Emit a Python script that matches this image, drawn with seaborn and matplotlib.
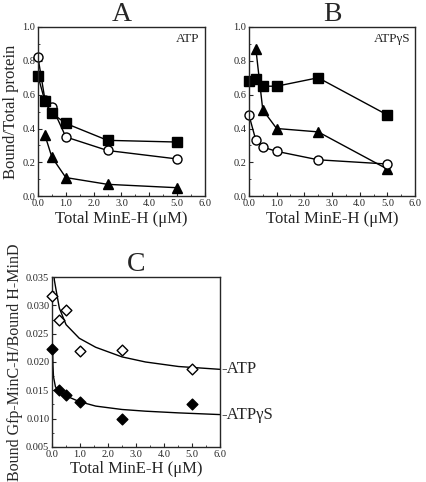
import matplotlib
matplotlib.use("Agg")
import matplotlib.pyplot as plt
import numpy as np
import pandas as pd
import seaborn as sns
from matplotlib.ticker import MultipleLocator, FormatStrFormatter

# ---- data ----
conc = [0.0, 0.25, 0.5, 1.0, 2.5, 5.0]
conc_tri = [0.25, 0.5, 1.0, 2.5, 5.0]

# panel A (ATP)
a_square = [0.71, 0.56, 0.49, 0.43, 0.33, 0.32]
a_circle = [0.82, 0.57, 0.53, 0.35, 0.27, 0.22]
a_triangle = [0.36, 0.23, 0.11, 0.07, 0.05]

# panel B (ATPgS)
b_square = [0.68, 0.69, 0.65, 0.65, 0.70, 0.48]
b_triangle = [0.87, 0.51, 0.40, 0.38, 0.16]
b_circle = [0.48, 0.33, 0.29, 0.265, 0.215, 0.19]

# panel C
c_atp = [0.0316, 0.0275, 0.0292, 0.0220, 0.0221, 0.0187]
c_atpgs = [0.0223, 0.0151, 0.0141, 0.0130, 0.0099, 0.0126]

# fitted curves
fit_x_atp = [0.06, 0.08, 0.14, 0.26, 0.5, 0.97, 1.56, 2.5, 3.34, 4.52, 6.0]
fit_y_atp = [0.0360, 0.0345, 0.0328, 0.0295, 0.0266, 0.0242, 0.0226, 0.0209, 0.0200, 0.0192, 0.0187]
fit_x_gs = [0.02, 0.03, 0.05, 0.12, 0.26, 0.5, 0.97, 1.56, 2.5, 3.34, 4.52, 6.0]
fit_y_gs = [0.0221, 0.0195, 0.0174, 0.0156, 0.0149, 0.0140, 0.0130, 0.0122, 0.0116, 0.0113, 0.0110, 0.0107]

sns.set_style("ticks")
plt.rcParams['font.family'] = ['Liberation Serif', 'DejaVu Serif']
plt.rcParams['xtick.direction'] = 'in'
plt.rcParams['ytick.direction'] = 'in'
plt.rcParams['axes.linewidth'] = 1.0

fig = plt.figure(figsize=(4.27, 4.82), dpi=100)
ax_a = fig.add_axes([0.089, 0.593, 0.391, 0.351])
ax_b = fig.add_axes([0.583, 0.593, 0.389, 0.351])
ax_c = fig.add_axes([0.122, 0.073, 0.393, 0.352])


def draw_series(ax, xs, ys, marker, face, size=6.5):
    sns.lineplot(x=xs, y=ys, ax=ax, color='black', linewidth=1.0, sort=False,
                 marker=marker, markersize=size, markerfacecolor=face,
                 markeredgecolor='black', markeredgewidth=1.0, clip_on=False)


def style_top(ax):
    ax.set_xlim(0, 6)
    ax.set_ylim(0, 1)
    ax.xaxis.set_major_locator(MultipleLocator(1))
    ax.xaxis.set_minor_locator(MultipleLocator(0.5))
    ax.yaxis.set_major_locator(MultipleLocator(0.2))
    ax.yaxis.set_minor_locator(MultipleLocator(0.1))
    ax.xaxis.set_major_formatter(FormatStrFormatter('%.1f'))
    ax.yaxis.set_major_formatter(FormatStrFormatter('%.1f'))
    ax.tick_params(labelsize=7.5, length=3, width=0.8, pad=2)
    ax.tick_params(which='minor', length=1.5, width=0.6)
    ax.set_xlabel('Total MinE-H (\u03bcM)', fontsize=12, labelpad=2)


# panel A
draw_series(ax_a, conc_tri, a_triangle, '^', 'black')
draw_series(ax_a, conc, a_circle, 'o', 'white')
draw_series(ax_a, conc, a_square, 's', 'black')
style_top(ax_a)
ax_a.set_ylabel('Bound/Total protein', fontsize=12, labelpad=2)
ax_a.text(5.8, 0.93, 'ATP', ha='right', va='center', fontsize=9.5)
ax_a.set_title('A', fontsize=20, pad=1)

# panel B
draw_series(ax_b, conc, b_square, 's', 'black')
draw_series(ax_b, conc_tri, b_triangle, '^', 'black')
draw_series(ax_b, conc, b_circle, 'o', 'white')
style_top(ax_b)
ax_b.set_ylabel('')
ax_b.text(5.85, 0.93, 'ATP\u03b3S', ha='right', va='center', fontsize=9.5)
ax_b.set_title('B', fontsize=20, pad=1)

# panel C
sns.lineplot(x=fit_x_atp, y=fit_y_atp, ax=ax_c, color='black', linewidth=1.0, sort=False)
sns.lineplot(x=fit_x_gs, y=fit_y_gs, ax=ax_c, color='black', linewidth=1.0, sort=False)
sns.scatterplot(x=conc, y=c_atp, ax=ax_c, marker='D', s=30, color='white',
                edgecolor='black', linewidth=1.0, zorder=3, clip_on=False)
sns.scatterplot(x=conc, y=c_atpgs, ax=ax_c, marker='D', s=30, color='black',
                edgecolor='black', linewidth=1.0, zorder=3, clip_on=False)
ax_c.set_xlim(0, 6)
ax_c.set_ylim(0.005, 0.035)
ax_c.xaxis.set_major_locator(MultipleLocator(1))
ax_c.xaxis.set_minor_locator(MultipleLocator(0.5))
ax_c.yaxis.set_major_locator(MultipleLocator(0.005))
ax_c.yaxis.set_minor_locator(MultipleLocator(0.0025))
ax_c.xaxis.set_major_formatter(FormatStrFormatter('%.1f'))
ax_c.yaxis.set_major_formatter(FormatStrFormatter('%.3f'))
ax_c.tick_params(labelsize=7.5, length=3, width=0.8, pad=2)
ax_c.tick_params(which='minor', length=1.5, width=0.6)
ax_c.set_xlabel('Total MinE-H (\u03bcM)', fontsize=12, labelpad=2)
ax_c.set_ylabel('Bound Gfp-MinC-H/Bound H-MinD', fontsize=11.5, labelpad=2)
ax_c.set_title('C', fontsize=20, pad=1)
ax_c.text(6.05, fit_y_atp[-1], '-ATP', ha='left', va='center', fontsize=12, clip_on=False)
ax_c.text(6.05, fit_y_gs[-1], '-ATP\u03b3S', ha='left', va='center', fontsize=12, clip_on=False)

fig.savefig('out.png', dpi=100)
